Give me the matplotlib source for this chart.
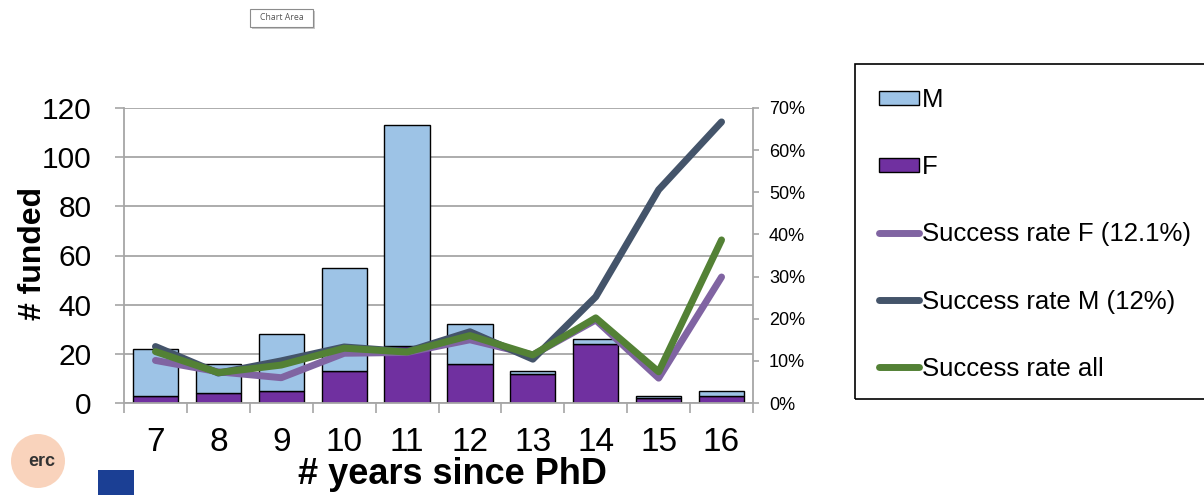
import matplotlib
matplotlib.use("Agg")
import matplotlib.pyplot as plt
from matplotlib.patches import Rectangle, Patch, Ellipse
from matplotlib.lines import Line2D
import numpy as np

plt.rcParams['font.family'] = ['Liberation Sans', 'DejaVu Sans']

# ---- data ----
years = ['7', '8', '9', '10', '11', '12', '13', '14', '15', '16']
funded_F = [3, 4, 5, 13, 23, 16, 12, 24, 2, 3]
funded_M = [19, 12, 23, 42, 90, 16, 1, 2, 1, 2]
rate_F = [0.101, 0.074, 0.060, 0.118, 0.120, 0.150, 0.114, 0.197, 0.059, 0.299]
rate_M = [0.134, 0.071, 0.100, 0.133, 0.122, 0.169, 0.104, 0.252, 0.506, 0.667]
rate_all = [0.122, 0.072, 0.090, 0.130, 0.121, 0.160, 0.114, 0.202, 0.074, 0.387]

col_M = '#9DC3E6'
col_F = '#7030A0'
col_rF = '#8064A2'
col_rM = '#44546A'
col_rAll = '#538135'
grid_col = '#A6A6A6'

W, H = 1204, 496
fig = plt.figure(figsize=(W / 100, H / 100), dpi=100)

def fx(px):
    return px / W

def fy(py):
    return 1 - py / H

ax = fig.add_axes([fx(124), fy(403), fx(753) - fx(124), fy(108) - fy(403)])
x = np.arange(len(years))
bw = 0.72
ax.bar(x, funded_F, width=bw, color=col_F, edgecolor='black', linewidth=1.0, zorder=2)
ax.bar(x, funded_M, width=bw, bottom=funded_F, color=col_M, edgecolor='black', linewidth=1.0, zorder=2)

ax.set_xlim(-0.5, len(years) - 0.5)
ax.set_ylim(0, 120)
ax.set_yticks(np.arange(0, 121, 20))
ax.yaxis.grid(True, color=grid_col, linewidth=1.3, zorder=0)
ax.set_axisbelow(True)
ax.set_xticks(x)
ax.set_xticklabels(years)
ax.set_xticks(np.arange(-0.5, len(years), 1.0), minor=True)
ax.tick_params(axis='x', which='major', length=0, pad=17, labelsize=24)
ax.tick_params(axis='x', which='minor', length=7, width=1.2, color=grid_col, direction='out')
ax.tick_params(axis='y', length=6.5, width=1.2, color=grid_col, direction='out', pad=17, labelsize=21.5)
for s in ['top', 'right']:
    ax.spines[s].set_visible(False)
for s in ['left', 'bottom']:
    ax.spines[s].set_color(grid_col)
    ax.spines[s].set_linewidth(1.3)

ax2 = ax.twinx()
ax2.set_ylim(0, 0.70)
ax2.set_yticks(np.arange(0, 0.71, 0.10))
ax2.set_yticklabels([f'{int(round(v * 100))}%' for v in np.arange(0, 0.71, 0.10)])
ax2.tick_params(axis='y', length=4.5, width=1.2, color=grid_col, direction='out', pad=7, labelsize=13)
for s in ['top', 'left', 'bottom']:
    ax2.spines[s].set_visible(False)
ax2.spines['right'].set_color(grid_col)
ax2.spines['right'].set_linewidth(1.3)
lw = 5
ax2.plot(x, rate_F, color=col_rF, linewidth=lw, solid_capstyle='round', solid_joinstyle='round', zorder=3)
ax2.plot(x, rate_M, color=col_rM, linewidth=lw, solid_capstyle='round', solid_joinstyle='round', zorder=4)
ax2.plot(x, rate_all, color=col_rAll, linewidth=lw, solid_capstyle='round', solid_joinstyle='round', zorder=5)

# axis titles
fig.text(fx(33), fy(254), '# funded', rotation=90, ha='center', va='center', fontsize=23, fontweight='bold')
fig.text(fx(452), fy(474), '# years since PhD', ha='center', va='center', fontsize=26, fontweight='bold')

# legend
handles = [
    Patch(facecolor=col_M, edgecolor='black', linewidth=1.0),
    Patch(facecolor=col_F, edgecolor='black', linewidth=1.0),
    Line2D([], [], color=col_rF, linewidth=lw, solid_capstyle='round'),
    Line2D([], [], color=col_rM, linewidth=lw, solid_capstyle='round'),
    Line2D([], [], color=col_rAll, linewidth=lw, solid_capstyle='round'),
]
labels = ['M', 'F', 'Success rate F (12.1%)', 'Success rate M (12%)', 'Success rate all']
fig.legend(handles, labels, loc='upper left', bbox_to_anchor=(fx(879), fy(88)),
           frameon=False, fontsize=18.5, borderpad=0, borderaxespad=0,
           handlelength=1.55, handleheight=0.5, handletextpad=0.12, labelspacing=1.68)
fig.patches.append(Rectangle((fx(855), fy(399)), fx(500), fy(64) - fy(399), transform=fig.transFigure,
                             fill=False, edgecolor='black', linewidth=1.2, figure=fig))

# "Chart Area" tooltip
fig.patches.append(Rectangle((fx(252), fy(29)), fx(63), fy(11) - fy(29), transform=fig.transFigure,
                             facecolor='#C8C8C8', edgecolor='none', figure=fig))
fig.patches.append(Rectangle((fx(250), fy(27)), fx(63), fy(9) - fy(27), transform=fig.transFigure,
                             facecolor='white', edgecolor='#8C8C8C', linewidth=0.8, figure=fig))
fig.text(fx(281.5), fy(18), 'Chart Area', ha='center', va='center', fontsize=6.3,
         color='#575757', family=['Open Sans', 'DejaVu Sans'])

# logos (decorative)
fig.patches.append(Ellipse((fx(38), fy(461)), 54 / W, 54 / H, transform=fig.transFigure,
                           facecolor='#F4A97A', edgecolor='none', alpha=0.5, figure=fig))
fig.text(fx(42), fy(462), 'erc', ha='center', va='center', fontsize=13, fontweight='bold', color='#333333')
fig.patches.append(Rectangle((fx(98), fy(495)), fx(36), fy(470) - fy(495), transform=fig.transFigure,
                             facecolor='#1B3F94', edgecolor='none', figure=fig))

fig.savefig('out.png', dpi=100)
